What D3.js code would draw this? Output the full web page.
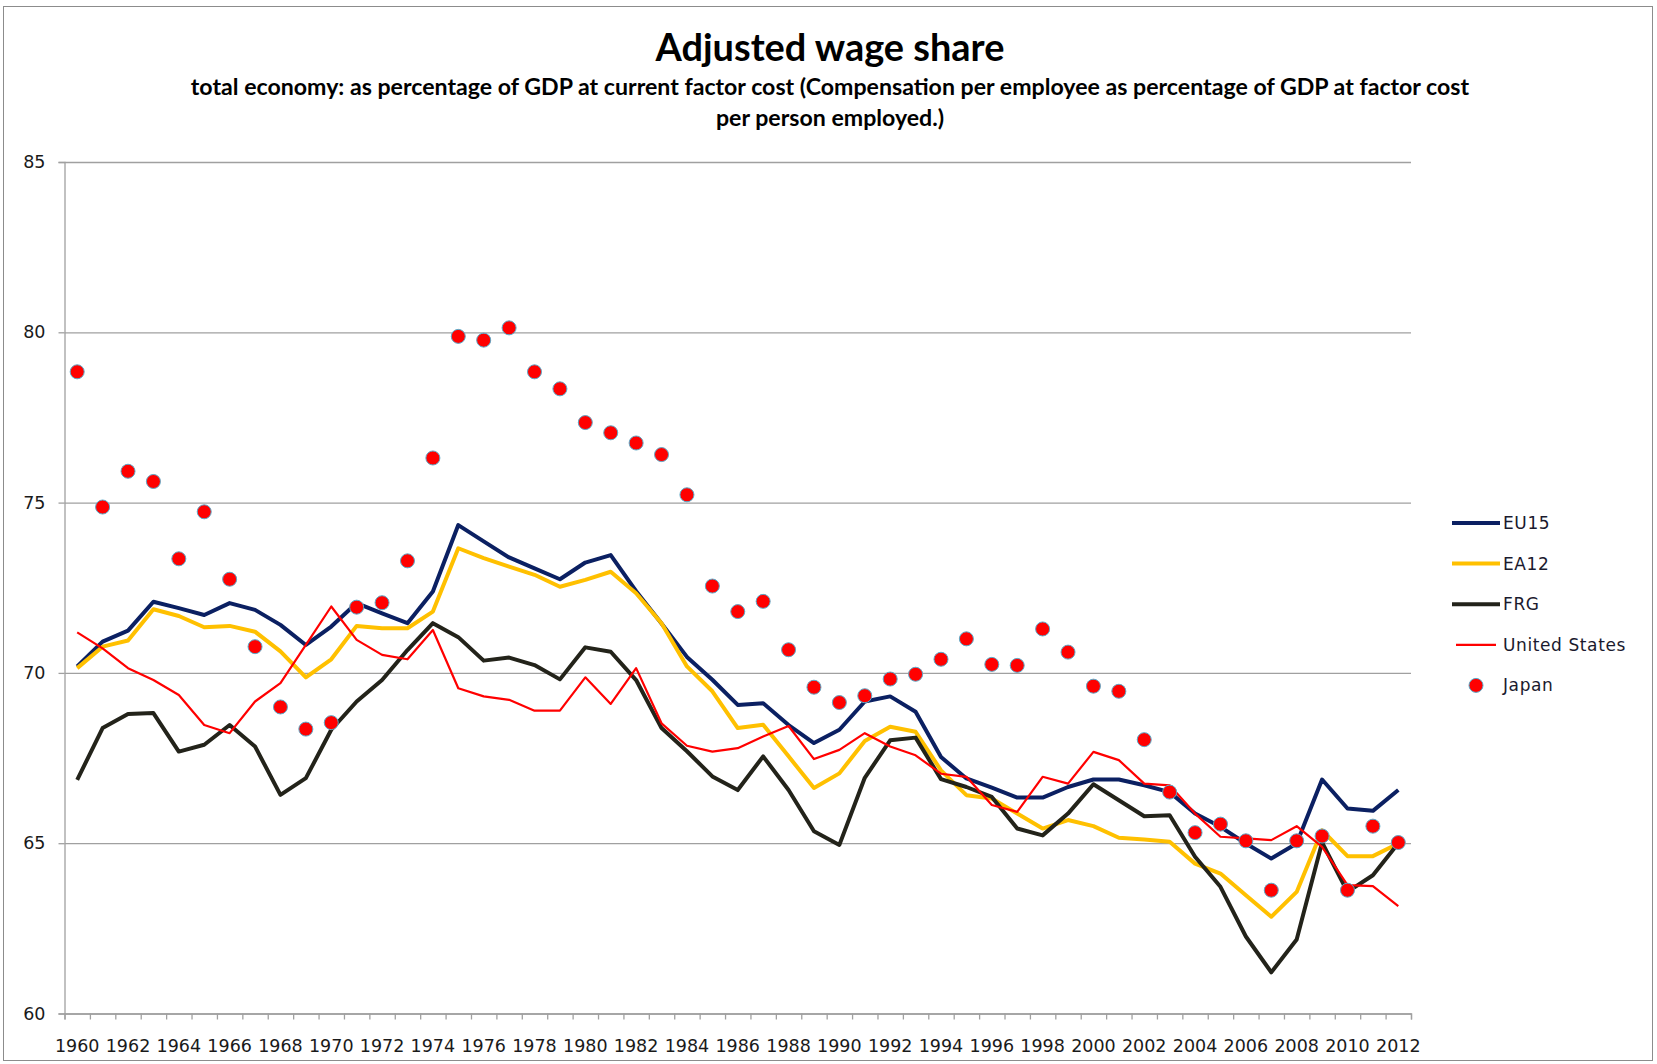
<!DOCTYPE html>
<html>
<head>
<meta charset="utf-8">
<script src="https://cdn.jsdelivr.net/npm/d3@7"></script>
<style>
  body { margin: 0; background: #fff; }
  text { font-family: Lato, "Open Sans", sans-serif; }
</style>
</head>
<body>
<svg width="1657" height="1064"></svg>
<script>
var years = [1960,1961,1962,1963,1964,1965,1966,1967,1968,1969,
  1970,1971,1972,1973,1974,1975,1976,1977,1978,1979,
  1980,1981,1982,1983,1984,1985,1986,1987,1988,1989,
  1990,1991,1992,1993,1994,1995,1996,1997,1998,1999,
  2000,2001,2002,2003,2004,2005,2006,2007,2008,2009,
  2010,2011,2012];

var yearLabels = [1960,1962,1964,1966,1968,1970,1972,1974,1976,1978,1980,1982,1984,1986,
  1988,1990,1992,1994,1996,1998,2000,2002,2004,2006,2008,2010,2012];
var yTicks = [60, 65, 70, 75, 80, 85];

var eu15 = [70.19,70.92,71.24,72.09,71.90,71.70,72.05,71.85,71.41,70.82,
  71.36,72.05,71.75,71.46,72.39,74.34,73.86,73.39,73.07,72.75,
  73.24,73.46,72.40,71.45,70.47,69.80,69.06,69.11,68.47,67.94,
  68.33,69.16,69.31,68.86,67.53,66.90,66.63,66.34,66.34,66.65,
  66.87,66.87,66.70,66.50,65.87,65.48,64.99,64.55,64.99,66.87,
  66.02,65.95,66.56];
var ea12 = [70.14,70.77,70.95,71.87,71.67,71.34,71.38,71.21,70.63,69.87,
  70.40,71.38,71.31,71.31,71.80,73.66,73.37,73.12,72.88,72.53,
  72.73,72.97,72.34,71.46,70.19,69.46,68.38,68.48,67.55,66.62,
  67.05,68.00,68.42,68.27,67.14,66.41,66.31,65.87,65.43,65.68,
  65.50,65.16,65.11,65.04,64.40,64.11,63.47,62.84,63.57,65.38,
  64.62,64.62,64.99];
var frg = [66.86,68.38,68.79,68.82,67.69,67.89,68.47,67.84,66.42,66.91,
  68.33,69.16,69.79,70.67,71.46,71.05,70.36,70.45,70.23,69.81,
  70.75,70.62,69.79,68.38,67.70,66.96,66.56,67.55,66.56,65.35,
  64.95,66.92,68.02,68.10,66.88,66.65,66.36,65.43,65.23,65.87,
  66.73,66.26,65.79,65.82,64.60,63.72,62.26,61.21,62.17,65.02,
  63.57,64.06,65.00];
var us = [71.19,70.72,70.14,69.79,69.35,68.47,68.23,69.16,69.70,70.82,
  71.95,70.97,70.53,70.40,71.26,69.55,69.31,69.21,68.89,68.89,
  69.87,69.09,70.14,68.52,67.86,67.69,67.79,68.13,68.44,67.47,
  67.74,68.23,67.84,67.58,67.04,66.95,66.12,65.92,66.95,66.75,
  67.68,67.44,66.75,66.70,65.87,65.19,65.14,65.09,65.50,64.89,
  63.77,63.74,63.15];
var japan = [78.84,74.87,75.92,75.62,73.35,74.73,72.75,70.77,69.00,68.35,
  68.54,71.93,72.06,73.29,76.31,79.88,79.77,80.13,78.84,78.34,
  77.35,77.05,76.75,76.41,75.23,72.55,71.80,72.10,70.68,69.58,
  69.13,69.33,69.82,69.96,70.40,71.00,70.25,70.22,71.29,70.61,
  69.61,69.46,68.04,66.50,65.31,65.56,65.07,63.62,65.07,65.21,
  63.62,65.50,65.02];

var lineSeries = [
  {name: "EU15", values: eu15, color: "#0b2062", width: 4},
  {name: "EA12", values: ea12, color: "#ffc000", width: 4},
  {name: "FRG", values: frg, color: "#23231a", width: 4},
  {name: "United States", values: us, color: "#ff0000", width: 2.2}
];

var tickFont = "'DejaVu Sans', Verdana, sans-serif";

var svg = d3.select("svg"),
    width = +svg.attr("width"),
    height = +svg.attr("height");

svg.append("rect")
  .attr("x", 3.5).attr("y", 6.5)
  .attr("width", width - 8).attr("height", height - 10)
  .attr("fill", "#fff").attr("stroke", "#8c8c8c");

var plot = {left: 64.5, right: 1411, top: 162, bottom: 1013.5};

var x = d3.scaleBand().domain(years).range([plot.left, plot.right]);
var xc = d => x(d) + x.bandwidth() / 2;
var y = d3.scaleLinear().domain([60, 85]).range([plot.bottom, plot.top]);

// gridlines
svg.append("g")
  .attr("transform", "translate(" + plot.left + ",0)")
  .call(d3.axisLeft(y).tickValues(yTicks).tickSize(-(plot.right - plot.left)).tickFormat(""))
  .call(g => g.select(".domain").remove())
  .call(g => g.selectAll("line").attr("stroke", "#a0a0a0").attr("stroke-width", 1.3));

// y axis
svg.append("g")
  .attr("transform", "translate(" + plot.left + ",0)")
  .call(d3.axisLeft(y).tickValues(yTicks).tickSize(6).tickPadding(13))
  .call(g => g.select(".domain").attr("stroke", "#a0a0a0").attr("stroke-width", 1.3))
  .call(g => g.selectAll("line").attr("stroke", "#a0a0a0").attr("stroke-width", 1.3))
  .call(g => g.selectAll("text").attr("font-size", 17.5).attr("fill", "#1a1a1a")
    .style("font-family", tickFont));

// x axis: ticks at category boundaries
var xb = d3.scaleLinear().domain([0, years.length]).range([plot.left, plot.right]);
svg.append("g")
  .attr("transform", "translate(0," + plot.bottom + ")")
  .call(d3.axisBottom(xb).tickValues(d3.range(years.length + 1)).tickSize(6).tickFormat(""))
  .call(g => g.select(".domain").attr("stroke", "#a0a0a0").attr("stroke-width", 1.3))
  .call(g => g.selectAll("line").attr("stroke", "#a0a0a0").attr("stroke-width", 1.3));

svg.append("g")
  .selectAll("text")
  .data(yearLabels)
  .enter().append("text")
  .attr("x", d => xc(d))
  .attr("y", plot.bottom + 38)
  .attr("text-anchor", "middle")
  .attr("font-size", 17.5)
  .attr("fill", "#1a1a1a")
  .style("font-family", tickFont)
  .text(d => d);

// lines
var line = d3.line()
  .x((d, i) => xc(years[i]))
  .y(d => y(d))
  .curve(d3.curveLinear);

svg.append("g")
  .selectAll("path")
  .data(lineSeries)
  .enter().append("path")
  .attr("d", d => line(d.values))
  .attr("fill", "none")
  .attr("stroke", d => d.color)
  .attr("stroke-width", d => d.width)
  .attr("stroke-linejoin", "round");

// Japan markers
svg.append("g")
  .selectAll("circle")
  .data(japan)
  .enter().append("circle")
  .attr("cx", (d, i) => xc(years[i]))
  .attr("cy", d => y(d))
  .attr("r", 7)
  .attr("fill", "#ff0000")
  .attr("stroke", "#5aa9c8")
  .attr("stroke-width", 1);

// titles
function fitText(sel, targetWidth) {
  var w = sel.node().getComputedTextLength();
  var fs = +sel.attr("font-size");
  sel.attr("font-size", fs * targetWidth / w);
}

var title = svg.append("text")
  .attr("x", 830).attr("y", 61)
  .attr("text-anchor", "middle")
  .attr("font-size", 32).attr("font-weight", "bold")
  .attr("fill", "#000")
  .text("Adjusted wage share");
fitText(title, 349);

var sub1 = svg.append("text")
  .attr("x", 830).attr("y", 95)
  .attr("text-anchor", "middle")
  .attr("font-size", 20).attr("font-weight", "bold")
  .attr("fill", "#000")
  .text("total economy: as percentage of GDP at current factor cost (Compensation per employee as percentage of GDP at factor cost");
fitText(sub1, 1279);

svg.append("text")
  .attr("x", 830).attr("y", 126)
  .attr("text-anchor", "middle")
  .attr("font-size", sub1.attr("font-size")).attr("font-weight", "bold")
  .attr("fill", "#000")
  .text("per person employed.)");

// legend
var legendItems = lineSeries.concat([{name: "Japan", marker: true}]);
var legend = svg.append("g").attr("transform", "translate(1452,523)");
var li = legend.selectAll("g")
  .data(legendItems)
  .enter().append("g")
  .attr("transform", (d, i) => "translate(0," + i * 40.6 + ")");

li.filter(d => !d.marker).append("line")
  .attr("x1", d => d.width > 3 ? 0 : 4).attr("x2", d => d.width > 3 ? 48 : 44)
  .attr("stroke", d => d.color)
  .attr("stroke-width", d => d.width);

li.filter(d => d.marker).append("circle")
  .attr("cx", 24).attr("r", 7)
  .attr("fill", "#ff0000")
  .attr("stroke", "#5aa9c8")
  .attr("stroke-width", 1);

li.append("text")
  .attr("x", 51)
  .attr("y", 6)
  .attr("font-size", 17)
  .attr("letter-spacing", 0.6)
  .attr("fill", "#1a1a2e")
  .style("font-family", tickFont)
  .text(d => d.name);
</script>
</body>
</html>
